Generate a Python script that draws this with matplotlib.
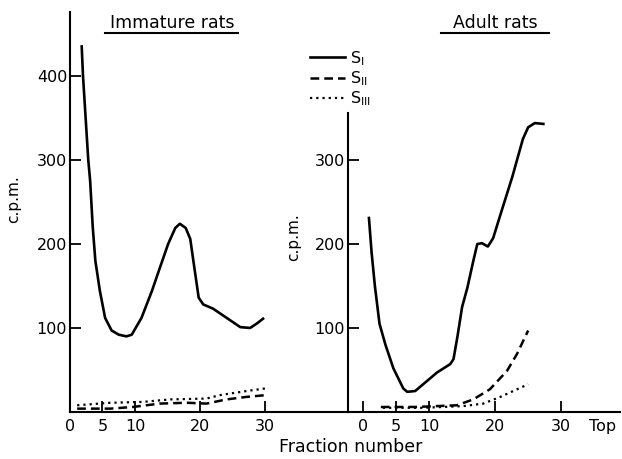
import matplotlib
matplotlib.use("Agg")
import matplotlib.pyplot as plt
from matplotlib.lines import Line2D

# immature rats
imm_x_s1 = [1.8, 2.0, 2.8, 3.1, 3.5, 3.9, 4.6, 5.4, 6.4, 7.5, 8.7, 9.5, 11.0, 12.6, 13.8, 15.1,
            16.2, 16.9, 17.8, 18.5, 19.2, 19.8, 20.5, 22.0, 24.1, 26.2, 27.7, 28.7, 29.7]
imm_s1 = [435, 400, 301, 275, 220, 180, 144, 112, 97, 92, 90, 92, 112, 144, 171, 200,
          219, 224, 219, 206, 168, 136, 128, 123, 112, 101, 100, 105, 111]
imm_x_s2 = [1.1, 6.2, 9.7, 13.8, 18.0, 21.0, 24.1, 27.2, 30.0]
imm_s2 = [4, 4, 6, 10, 11, 10, 15, 18, 20]
imm_x_s3 = [1.1, 6.2, 11.2, 15.4, 21.0, 23.0, 27.2, 30.0]
imm_s3 = [8, 11, 12, 15, 16, 20, 25, 28]

# adult rats
ad_x_s1 = [0.9, 1.3, 1.8, 2.5, 3.4, 4.6, 6.1, 6.7, 7.9, 9.7, 11.2, 13.2, 13.7, 14.3, 15.0,
           15.8, 16.7, 17.3, 18.0, 18.9, 19.7, 21.0, 22.6, 24.2, 25.0, 26.0, 27.3]
ad_s1 = [231, 190, 150, 105, 80, 52, 28, 24, 25, 37, 47, 57, 63, 90, 125,
         148, 180, 200, 201, 197, 207, 240, 280, 325, 339, 344, 343]
ad_x_s2 = [2.7, 8.0, 14.2, 16.7, 19.2, 21.8, 23.3, 25.0]
ad_s2 = [6, 6, 8, 15, 27, 49, 69, 97]
ad_x_s3 = [3.0, 9.0, 15.2, 18.2, 20.8, 23.3, 25.0]
ad_s3 = [5, 5, 7, 10, 18, 27, 33]

labels = ["$\\mathregular{S_{I}}$", "$\\mathregular{S_{II}}$", "$\\mathregular{S_{III}}$"]

W, H = 622, 459
fig = plt.figure(figsize=(W / 100, H / 100), dpi=100)


def px(x0, y0, x1, y1):
    return [x0 / W, 1 - y1 / H, (x1 - x0) / W, (y1 - y0) / H]


ax1 = fig.add_axes(px(70, 12, 348, 412))
ax2 = fig.add_axes(px(348, 113, 620, 412))

solid = dict(color="black", lw=1.9, ls="-")
dashed = dict(color="black", lw=1.8, ls=(0, (3.5, 2)))
dotted = dict(color="black", lw=1.6, ls=(0, (1, 1.8)))

l1, = ax1.plot(imm_x_s1, imm_s1, **solid)
l2, = ax1.plot(imm_x_s2, imm_s2, **dashed)
l3, = ax1.plot(imm_x_s3, imm_s3, **dotted)
ax2.plot(ad_x_s1, ad_s1, **solid)
ax2.plot(ad_x_s2, ad_s2, **dashed)
ax2.plot(ad_x_s3, ad_s3, **dotted)

ax1.set_xlim(0, 42.77)
ax1.set_ylim(0, 476)
ax2.set_xlim(-2.27, 38.9)
ax2.set_ylim(0, 356)

for ax in (ax1, ax2):
    for s in ("top", "right"):
        ax.spines[s].set_visible(False)
    ax.spines["left"].set_linewidth(1.5)
    ax.spines["bottom"].set_linewidth(1.5)
    ax.tick_params(direction="in", length=8, width=1.3, labelsize=11.5)
    ax.tick_params(axis="y", pad=2)
    ax.tick_params(axis="x", pad=5)

ax1.set_xticks([0, 5, 10, 20, 30])
ax1.set_yticks([100, 200, 300, 400])
ax2.set_xticks([0, 5, 10, 20, 30, 36.2], ["0", "5", "10", "20", "30", "Top"])
ax2.xaxis.get_major_ticks()[-1].tick1line.set_visible(False)
ax2.set_yticks([100, 200, 300])

fig.text(14 / W, 1 - 199 / H, "c.p.m.", rotation=90, ha="center", va="center", fontsize=11)
fig.text(294 / W, 1 - 237 / H, "c.p.m.", rotation=90, ha="center", va="center", fontsize=11)
fig.text(351 / W, 1 - 447 / H, "Fraction number", ha="center", va="center", fontsize=12.5)

fig.text(172 / W, 1 - 23 / H, "Immature rats", ha="center", va="center", fontsize=12.5)
fig.text(495 / W, 1 - 23 / H, "Adult rats", ha="center", va="center", fontsize=12.5)
for x0, x1 in ((105, 238), (441, 549)):
    fig.add_artist(Line2D([x0 / W, x1 / W], [1 - 33 / H, 1 - 33 / H], color="black", lw=1.5,
                          transform=fig.transFigure))

fig.legend([l1, l2, l3], labels, loc="upper left", bbox_to_anchor=(302 / W, 1 - 41 / H),
           frameon=False, fontsize=11.5, handlelength=2.2, handletextpad=0.3,
           labelspacing=0.1, borderpad=0)

fig.savefig("out.png", dpi=100)
